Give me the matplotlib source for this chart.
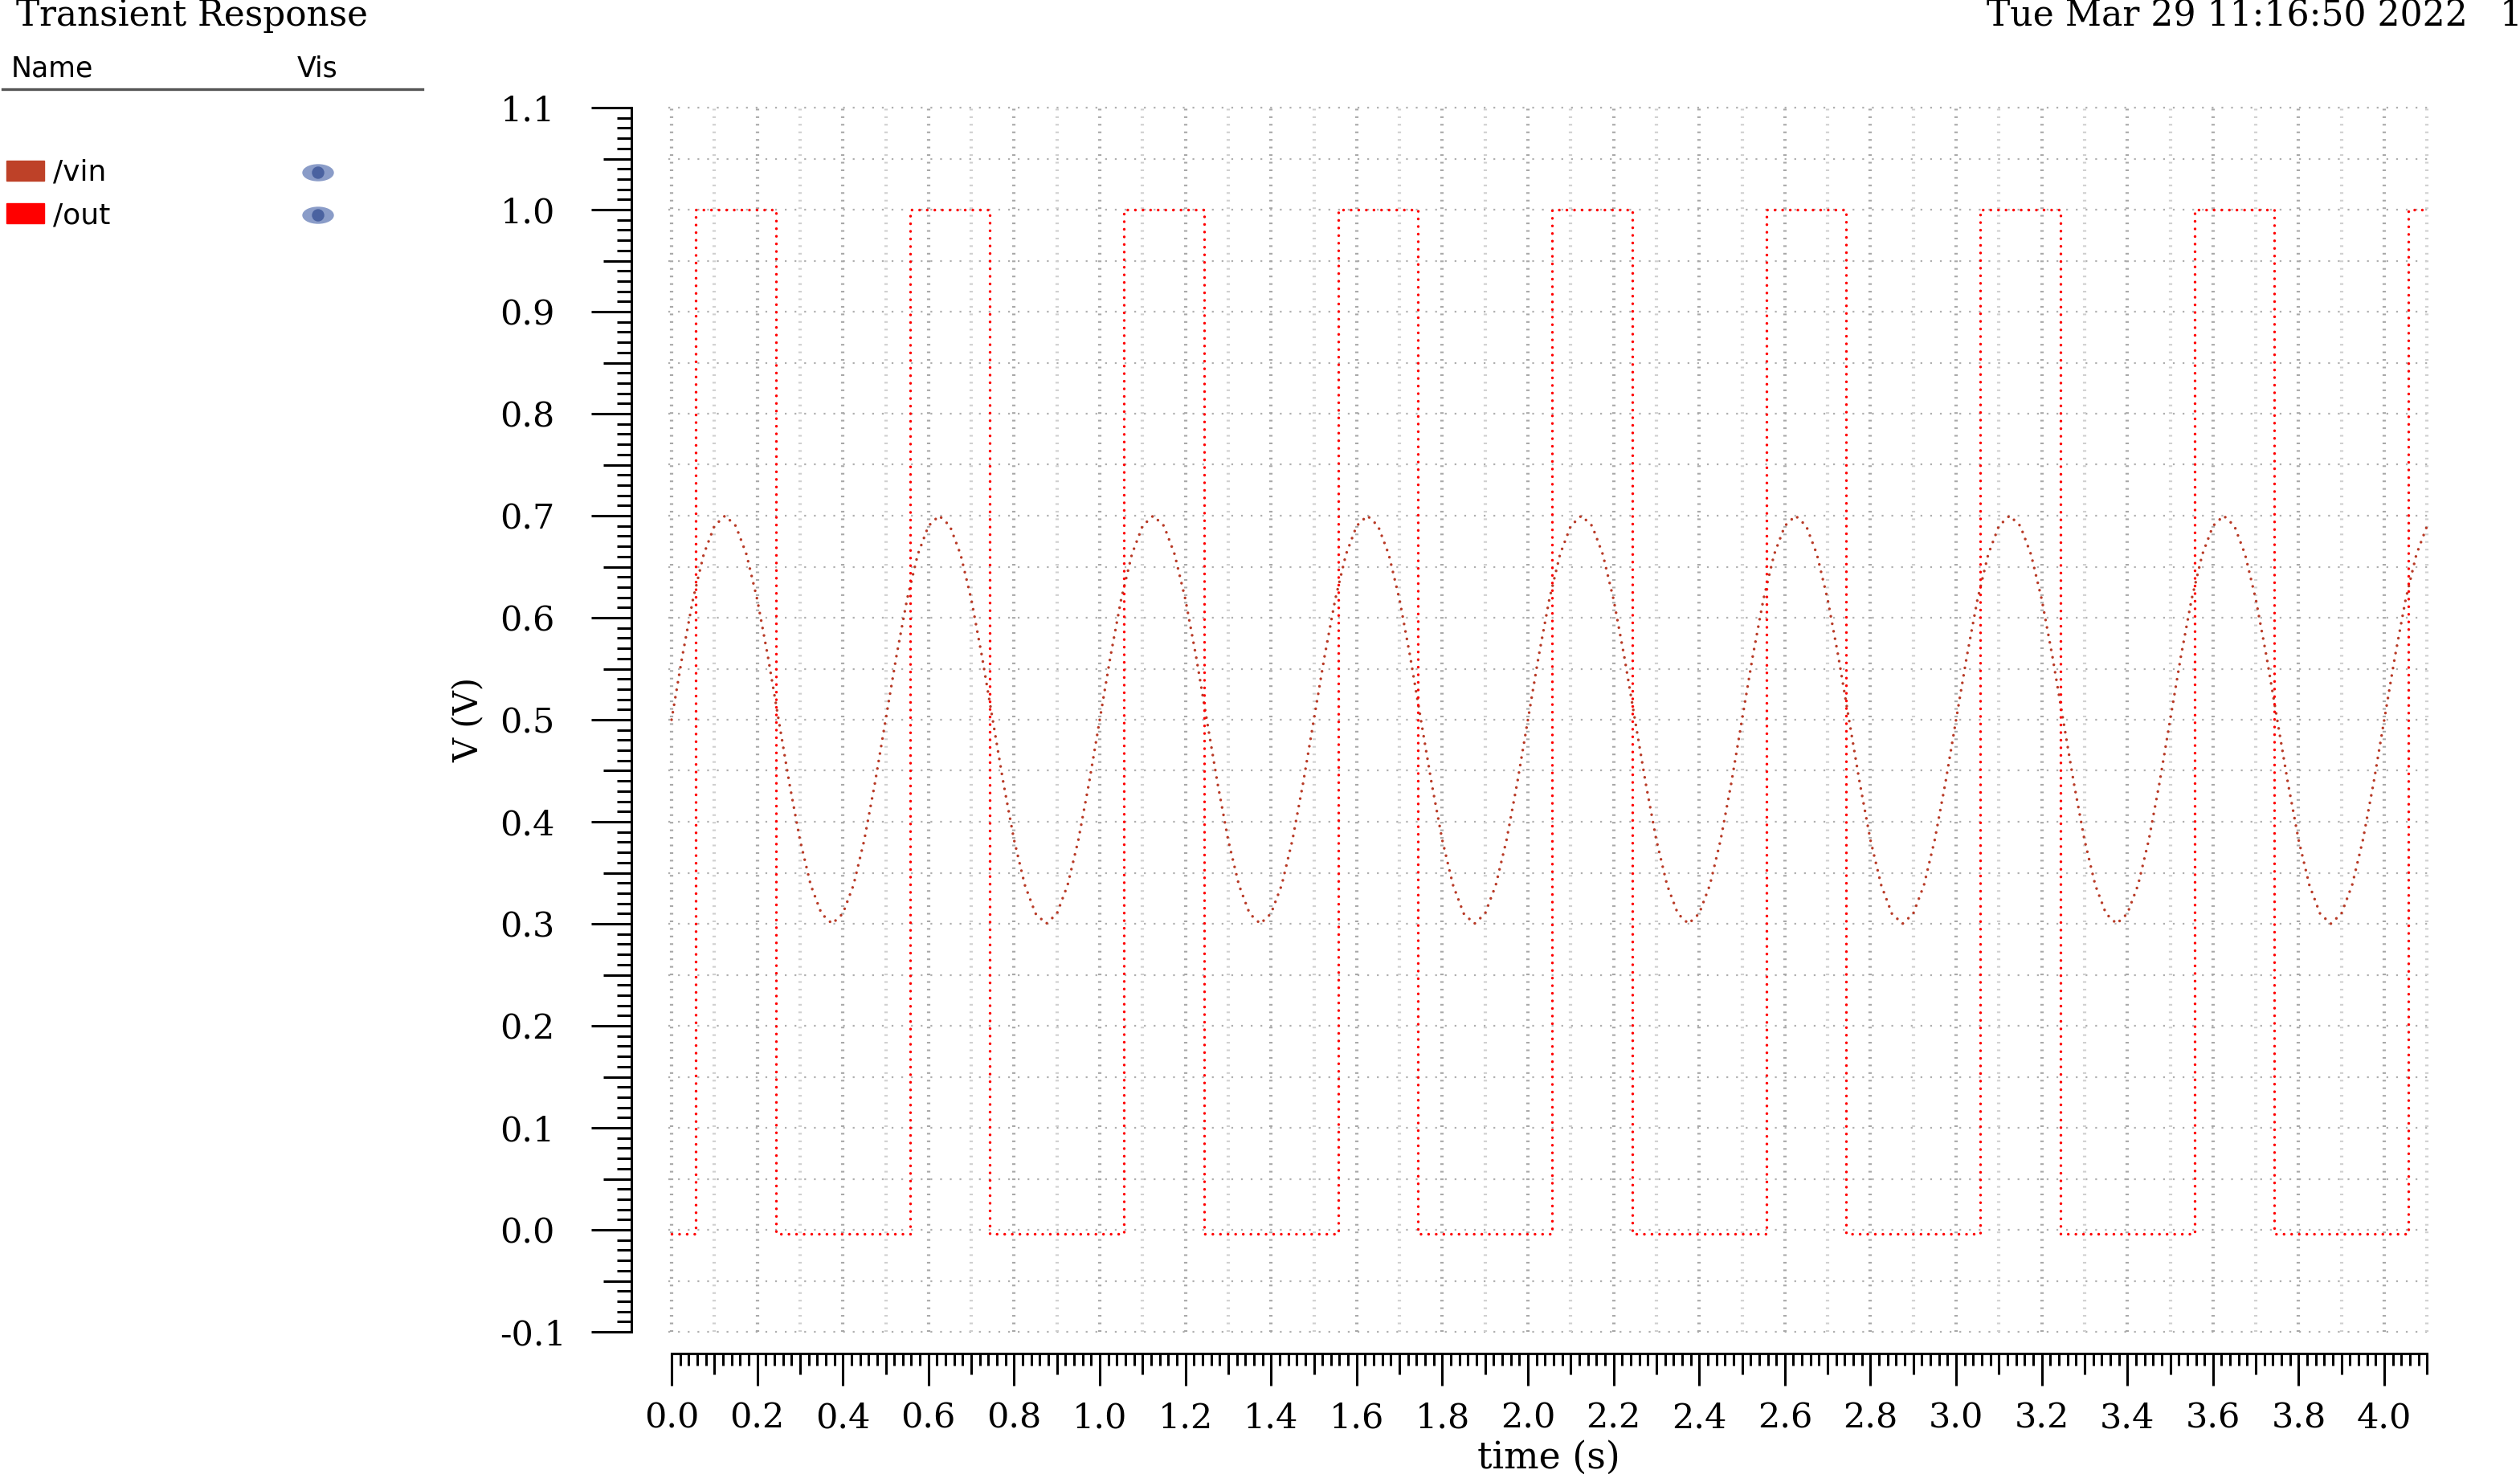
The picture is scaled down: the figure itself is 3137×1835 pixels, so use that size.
import matplotlib.pyplot as plt
import numpy as np
from matplotlib.lines import Line2D
from matplotlib.patches import Ellipse, Rectangle
from matplotlib.ticker import MultipleLocator, FuncFormatter

# /vin every 25 ms (one row = one 0.5 s period)
vin_dt = 0.025
vin = [
    0.500, 0.562, 0.618, 0.662, 0.690, 0.700, 0.690, 0.662, 0.618, 0.562,
    0.500, 0.438, 0.382, 0.338, 0.310, 0.300, 0.310, 0.338, 0.382, 0.438,
    0.500, 0.562, 0.618, 0.662, 0.690, 0.700, 0.690, 0.662, 0.618, 0.562,
    0.500, 0.438, 0.382, 0.338, 0.310, 0.300, 0.310, 0.338, 0.382, 0.438,
    0.500, 0.562, 0.618, 0.662, 0.690, 0.700, 0.690, 0.662, 0.618, 0.562,
    0.500, 0.438, 0.382, 0.338, 0.310, 0.300, 0.310, 0.338, 0.382, 0.438,
    0.500, 0.562, 0.618, 0.662, 0.690, 0.700, 0.690, 0.662, 0.618, 0.562,
    0.500, 0.438, 0.382, 0.338, 0.310, 0.300, 0.310, 0.338, 0.382, 0.438,
    0.500, 0.562, 0.618, 0.662, 0.690, 0.700, 0.690, 0.662, 0.618, 0.562,
    0.500, 0.438, 0.382, 0.338, 0.310, 0.300, 0.310, 0.338, 0.382, 0.438,
    0.500, 0.562, 0.618, 0.662, 0.690, 0.700, 0.690, 0.662, 0.618, 0.562,
    0.500, 0.438, 0.382, 0.338, 0.310, 0.300, 0.310, 0.338, 0.382, 0.438,
    0.500, 0.562, 0.618, 0.662, 0.690, 0.700, 0.690, 0.662, 0.618, 0.562,
    0.500, 0.438, 0.382, 0.338, 0.310, 0.300, 0.310, 0.338, 0.382, 0.438,
    0.500, 0.562, 0.618, 0.662, 0.690, 0.700, 0.690, 0.662, 0.618, 0.562,
    0.500, 0.438, 0.382, 0.338, 0.310, 0.300, 0.310, 0.338, 0.382, 0.438,
    0.500, 0.562, 0.618, 0.662, 0.690,
]

# /out edges (s) and levels (V)
out_rise = [0.057, 0.557, 1.057, 1.557, 2.057, 2.557, 3.057, 3.557, 4.057]
out_fall = [0.243, 0.743, 1.243, 1.743, 2.243, 2.743, 3.243, 3.743]
out_hi = 1.0
out_lo = -0.004
t_end = 4.1

names = ['/vin', '/out']
colors = ['#B83A26', '#FF0000']
swatch_colors = ['#BE4128', '#FF0000']

W, H = 3137, 1835
plt.rcParams['axes.unicode_minus'] = False
plt.rcParams['lines.scale_dashes'] = False
plt.rcParams['font.family'] = 'DejaVu Serif'
sans = 'DejaVu Sans'

fig = plt.figure(figsize=(W / 100, H / 100), dpi=100)
ax = fig.add_axes([832 / W, 1 - 1658 / H, 2192 / W, 1524 / H])
ax.set_xlim(-0.0075, 4.105)
ax.set_ylim(-0.1, 1.1)

# dotted grid, cadence style
for y in np.arange(-0.1, 1.1001, 0.05):
    ax.axhline(y, color='#AFAFAF', lw=1.6, ls=(0, (1.6, 7.1)), zorder=0, clip_on=False)
for i, x in enumerate(np.arange(0, 4.1001, 0.1)):
    c = '#A8A8A8' if i % 2 == 0 else '#CFCFCF'
    ax.axvline(x, color=c, lw=3.0, ls=(0, (1.5, 5.3)), zorder=0, clip_on=False)

# traces
t_vin = np.arange(len(vin)) * vin_dt
ax.plot(t_vin, vin, color=colors[0], lw=2.5, ls=(0, (0.01, 6.8)),
        dash_capstyle='round', zorder=3)

t_out, v_out = [0.0], [out_lo]
for i, tr in enumerate(out_rise):
    t_out += [tr, tr]
    v_out += [out_lo, out_hi]
    if i < len(out_fall):
        t_out += [out_fall[i], out_fall[i]]
        v_out += [out_hi, out_lo]
t_out.append(t_end)
v_out.append(v_out[-1])
ax.plot(t_out, v_out, color=colors[1], lw=2.5, ls=(0, (0.01, 6.8)),
        dash_capstyle='round', zorder=4)

# detached axes
for s in ['top', 'right']:
    ax.spines[s].set_visible(False)
ax.spines['left'].set_position(('outward', 33))
ax.spines['bottom'].set_position(('outward', 19.5))
ax.spines['left'].set_bounds(-0.1, 1.1)
ax.spines['bottom'].set_bounds(0, 4.1)
ax.spines['left'].set_linewidth(2.2)
ax.spines['bottom'].set_linewidth(2.2)

fmt = FuncFormatter(lambda v, p: f'{round(v, 1) + 0.0:.1f}')
ax.xaxis.set_major_locator(MultipleLocator(0.2))
ax.xaxis.set_minor_locator(MultipleLocator(0.02))
ax.yaxis.set_major_locator(MultipleLocator(0.1))
ax.yaxis.set_minor_locator(MultipleLocator(0.01))
ax.xaxis.set_major_formatter(fmt)
ax.yaxis.set_major_formatter(fmt)
ax.tick_params(axis='x', which='major', length=29, width=2.2, pad=14, labelsize=31)
ax.tick_params(axis='x', which='minor', length=11, width=2.2)
ax.tick_params(axis='y', which='major', length=36, width=2.2, pad=82, labelsize=31)
ax.tick_params(axis='y', which='minor', length=13, width=2.2)


def mid_ticks(axis, step, length):
    locs = axis.get_minorticklocs()
    for loc, tick in zip(locs, axis.get_minor_ticks(len(locs))):
        if abs(loc / step - round(loc / step)) < 1e-6:
            tick.tick1line.set_markersize(length)


mid_ticks(ax.xaxis, 0.1, 19)
mid_ticks(ax.yaxis, 0.05, 25)
for lab in ax.get_yticklabels():
    lab.set_horizontalalignment('left')

ax.set_xlabel('time (s)', fontsize=33)
ax.xaxis.set_label_coords(0.5, (1658 - 1792) / 1524)
ax.set_ylabel('V (V)', fontsize=30)
ax.yaxis.set_label_coords((605 - 832) / 2192, 0.5)

# header texts
fig.text(20 / W, 1 - 32 / H, 'Transient Response', fontsize=31.5, va='baseline')
fig.text(2473 / W, 1 - 32 / H, 'Tue Mar 29 11:16:50 2022', fontsize=31.8, va='baseline')
fig.text(3112 / W, 1 - 32 / H, '1', fontsize=31.5, va='baseline')

# signal list panel
fig.text(14 / W, 1 - 95 / H, 'Name', family=sans, fontsize=25, va='baseline')
fig.text(370 / W, 1 - 95 / H, 'Vis', family=sans, fontsize=25, va='baseline')
fig.add_artist(Line2D([3 / W, 526 / W], [1 - 111 / H] * 2, color='#555555', lw=2.4,
                      transform=fig.transFigure))
for name, c, yb in zip(names, swatch_colors, [225, 278]):
    fig.add_artist(Rectangle((8 / W, 1 - yb / H), 47 / W, 25 / H, color=c,
                             transform=fig.transFigure))
    fig.text(66 / W, 1 - yb / H, name, family=sans, fontsize=26, va='baseline')
    ey = 1 - (yb - 10) / H
    fig.add_artist(Ellipse((396 / W, ey), 38 / W, 20 / H, color='#8A9CC8',
                           transform=fig.transFigure))
    fig.add_artist(Ellipse((396 / W, ey), 14 / W, 14 / H, color='#4A62A0',
                           transform=fig.transFigure))

fig.savefig('out.png', dpi=100)
